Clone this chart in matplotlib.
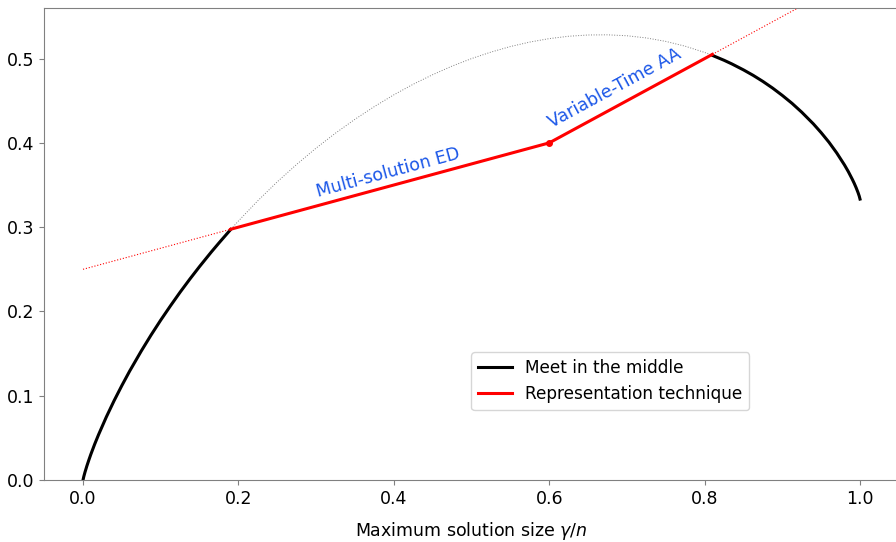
import numpy as np
import matplotlib
matplotlib.use('Agg')
import matplotlib.pyplot as plt

# meet in the middle exponent
x_mitm = [0.0, 0.001, 0.0025, 0.005, 0.0075, 0.01, 0.015, 0.02, 0.03, 0.04,
          0.05, 0.06, 0.075, 0.0875, 0.1, 0.1125, 0.125, 0.1375, 0.15, 0.165,
          0.175, 0.19, 0.2, 0.225, 0.25, 0.275, 0.3, 0.325, 0.35, 0.375, 0.4,
          0.425, 0.45, 0.475, 0.5, 0.525, 0.55, 0.575, 0.6, 0.625, 0.65,
          0.675, 0.7, 0.725, 0.75, 0.775, 0.8, 0.81, 0.825, 0.835, 0.85,
          0.8625, 0.875, 0.8875, 0.9, 0.9125, 0.925, 0.94, 0.95, 0.96, 0.97,
          0.98, 0.985, 0.99, 0.9925, 0.995, 0.9975, 0.999, 1.0]
y_mitm = [0.0, 0.0041, 0.0092, 0.0168, 0.0237, 0.0303, 0.0425, 0.0538, 0.0748,
          0.0941, 0.1121, 0.1292, 0.1531, 0.1719, 0.1897, 0.2066, 0.2229,
          0.2384, 0.2533, 0.2704, 0.2813, 0.2972, 0.3073, 0.3314, 0.3538,
          0.3745, 0.3938, 0.4116, 0.4280, 0.4431, 0.4570, 0.4696, 0.4809,
          0.4911, 0.5, 0.5077, 0.5143, 0.5196, 0.5237, 0.5265, 0.5280, 0.5282,
          0.5271, 0.5245, 0.5204, 0.5147, 0.5073, 0.5038, 0.4980, 0.4937,
          0.4866, 0.4801, 0.4729, 0.4650, 0.4563, 0.4469, 0.4364, 0.4225,
          0.4121, 0.4008, 0.3881, 0.3738, 0.3658, 0.3569, 0.3521, 0.3468,
          0.3409, 0.3368, 0.3333]

# representation technique (piecewise linear)
x_rep = [0.19, 0.6, 0.81]
y_rep = [0.2975, 0.4, 0.505]
# dotted extensions of the two linear pieces
x_ext1 = [0.0, 0.19]
y_ext1 = [0.25, 0.2975]
x_ext2 = [0.81, 1.0]
y_ext2 = [0.505, 0.6]

split_lo, split_hi = 0.19, 0.81

fig = plt.figure(figsize=(8.96, 5.42), dpi=100)
ax = fig.add_axes([0.0493, 0.1144, 0.9539, 0.8708])

xm = np.array(x_mitm)
ym = np.array(y_mitm)
ax.plot(xm, ym, ':', color='gray', lw=0.7)
lo = xm <= split_lo
hi = xm >= split_hi
ax.plot(xm[lo], ym[lo], color='black', lw=2.2, solid_joinstyle='round',
        label='Meet in the middle')
ax.plot(xm[hi], ym[hi], color='black', lw=2.2, solid_joinstyle='round')

ax.plot(x_ext1, y_ext1, ':', color='red', lw=0.8)
ax.plot(x_ext2, y_ext2, ':', color='red', lw=0.8)
ax.plot(x_rep, y_rep, color='red', lw=2.2, label='Representation technique')
ax.plot([x_rep[1]], [y_rep[1]], 'o', color='red', ms=4)

txt_col = '#1a56e8'
ax.text(0.302, 0.336, 'Multi-solution ED', color=txt_col, fontsize=12.5,
        rotation=15.2, rotation_mode='anchor')
ax.text(0.603, 0.418, 'Variable-Time AA', color=txt_col, fontsize=12.5,
        rotation=28.5, rotation_mode='anchor')

ax.set_xlim(-0.05, 1.05)
ax.set_ylim(0, 0.56)
ax.set_xticks([0.0, 0.2, 0.4, 0.6, 0.8, 1.0])
ax.set_yticks([0.0, 0.1, 0.2, 0.3, 0.4, 0.5])
ax.tick_params(labelsize=12.5, color='gray')
for s in ax.spines.values():
    s.set_color('gray')
ax.set_xlabel(r'Maximum solution size $\gamma/n$', fontsize=12.5, labelpad=9)

ax.legend(loc='lower left', bbox_to_anchor=(0.4996, 0.148), borderaxespad=0,
          fontsize=12.2)

fig.savefig('out.png', dpi=100)
